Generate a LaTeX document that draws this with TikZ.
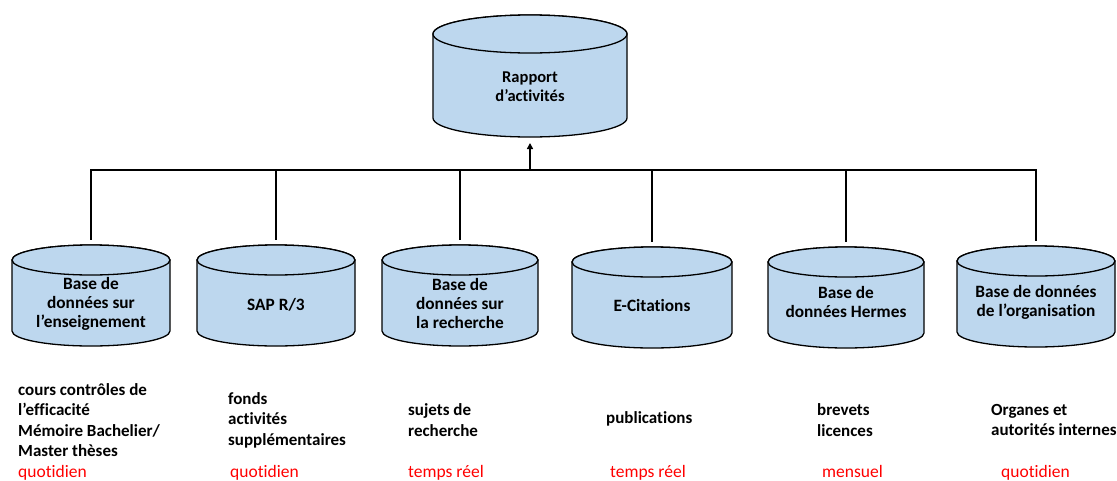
\documentclass[tikz,border=0pt]{standalone}
\usepackage{fontspec}
\setmainfont{Carlito}[Ligatures=NoCommon]
\usetikzlibrary{arrows.meta}
\definecolor{dbblue}{RGB}{189,215,238}
\definecolor{freqred}{RGB}{255,0,0}

\tikzset{
  cylbody/.style={draw=black, line width=1.3pt, fill=dbblue},
  wire/.style={draw=black, line width=2pt},
  dbtext/.style={font=\bfseries\fontsize{17.3}{19}\selectfont, align=center, inner sep=0pt},
  toptext/.style={font=\bfseries\fontsize{16.5}{19}\selectfont, align=center, inner sep=0pt},
  content/.style={font=\bfseries\fontsize{17}{20.5}\selectfont, align=left, anchor=west, inner sep=0pt},
  rate/.style={font=\fontsize{17.5}{20}\selectfont, text=freqred, anchor=base west, inner sep=0pt},
}

% database cylinder: name, centre x, top-ellipse y, bottom-ellipse y, x radius, y radius
\newcommand\dbcylinder[6]{%
  \coordinate (#1-top) at (#2,#3-#6);
  \coordinate (#1-bot) at (#2,#4+#6);
  \filldraw[cylbody] (#2-#5,#3) -- (#2-#5,#4)
    arc[start angle=180, end angle=0, x radius=#5, y radius=#6]
    -- (#2+#5,#3)
    arc[start angle=0, end angle=-180, x radius=#5, y radius=#6] -- cycle;
  \draw[cylbody] (#2,#3) ellipse[x radius=#5, y radius=#6];
}

\begin{document}
\begin{tikzpicture}[x=1pt, y=-1pt]
\useasboundingbox (0,0) rectangle (1117,480);

% report database
\dbcylinder{rep}{530}{34}{118}{97}{19}
\node[toptext] (rapport) at (530,87) {Rapport\\d’activités};

% source databases
\dbcylinder{c1}{91}{260}{331}{79}{15}
\dbcylinder{c2}{276}{260}{331}{79}{15}
\dbcylinder{c3}{460}{260}{331}{78}{15}
\dbcylinder{c4}{652}{262}{333}{80}{15}
\dbcylinder{c5}{846}{262}{333}{78}{15}
\dbcylinder{c6}{1036}{261}{332}{79}{15}

\node[dbtext] (ens) at (91,304) {Base de\\données sur\\l’enseignement};
\node[dbtext] (sap) at (276,305) {SAP R/3};
\node[dbtext] (rech) at (460,303) {Base de\\données sur\\la recherche};
\node[dbtext] (cit) at (652,305) {E-Citations};
\node[dbtext] (herm) at (846,302) {Base de\\données Hermes};
\node[dbtext] (org) at (1036,302) {Base de données\\de l’organisation};

% collecting bus
\coordinate (bus) at (530,170);
\draw[wire, shorten >=5pt] (c1-top |- bus) -- (c1-top);
\draw[wire, shorten >=5pt] (c2-top |- bus) -- (c2-top);
\draw[wire, shorten >=5pt] (c3-top |- bus) -- (c3-top);
\draw[wire, shorten >=5pt] (c4-top |- bus) -- (c4-top);
\draw[wire, shorten >=5pt] (c5-top |- bus) -- (c5-top);
\draw[wire, shorten >=5pt] (c6-top |- bus) -- (c6-top);
\draw[wire, line cap=rect] (c1-top |- bus) -- (c6-top |- bus);
\draw[wire, -{Triangle[length=6pt, width=6pt]}, shorten >=6pt] (rep-bot |- bus) -- (rep-bot);

% contents of each source
\node[content] (t1) at (18,420) {cours contrôles de\\l’efficacité\\Mémoire Bachelier/\\Master thèses};
\node[content] (t2) at (228,420) {fonds\\activités\\supplémentaires};
\node[content] (t3) at (408,420) {sujets de\\recherche};
\node[content] (t4) at (606,419) {publications};
\node[content] (t5) at (817,420) {brevets\\licences};
\node[content] (t6) at (991,420) {Organes et\\autorités internes};

% update frequencies
\node[rate] (f1) at (18,477) {quotidien};
\node[rate] (f2) at (230,477) {quotidien};
\node[rate] (f3) at (408,477) {temps réel};
\node[rate] (f4) at (610,477) {temps réel};
\node[rate] (f5) at (822,477) {mensuel};
\node[rate] (f6) at (1001,477) {quotidien};
\end{tikzpicture}
\end{document}
